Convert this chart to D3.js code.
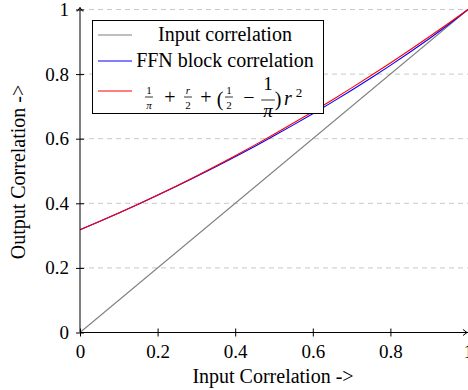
<!DOCTYPE html>
<html>
<head>
<meta charset="utf-8">
<script src="https://cdn.jsdelivr.net/npm/d3@7"></script>
<style>
  body { margin: 0; background: #fff; }
</style>
</head>
<body>
<svg width="468" height="390"></svg>
<script>
// values
const rValues = [0, 0.05, 0.1, 0.15, 0.2, 0.25, 0.3, 0.35, 0.4, 0.45, 0.5,
  0.55, 0.6, 0.65, 0.7, 0.75, 0.8, 0.85, 0.9, 0.95, 1]
const inputCorr = [[0, 0], [1, 1]]
const ffnCorr = [0.3183, 0.3437, 0.3699, 0.3969, 0.4247, 0.4533, 0.4827, 0.5130, 0.5441, 0.5761, 0.6090,
  0.6428, 0.6775, 0.7133, 0.7501, 0.7880, 0.8271, 0.8676, 0.9095, 0.9534, 1]
const approxCorr = [0.3183, 0.3438, 0.3701, 0.3974, 0.4256, 0.4547, 0.4847, 0.5156, 0.5474, 0.5801, 0.6137,
  0.6483, 0.6837, 0.7201, 0.7573, 0.7955, 0.8346, 0.8746, 0.9155, 0.9573, 1]
const xTicks = [0, 0.2, 0.4, 0.6, 0.8, 1]
const yTicks = [0, 0.2, 0.4, 0.6, 0.8, 1]
const gridTicks = [0.2, 0.4, 0.6, 0.8, 1]

const width = 468
const height = 390
const margin = {top: 9.5, right: 0, bottom: 57.5, left: 80}
const fontSize = 20
const tickFontSize = 19
const serif = 'Liberation Serif'

const x = d3.scaleLinear().domain([0, 1]).range([margin.left, width - margin.right])
const y = d3.scaleLinear().domain([0, 1]).range([height - margin.bottom, margin.top])

const svg = d3.select('svg')

// dashed grid
svg.append('g')
  .selectAll('line')
  .data(gridTicks)
  .join('line')
    .attr('x1', x(0)).attr('x2', x(1))
    .attr('y1', d => y(d)).attr('y2', d => y(d))
    .attr('stroke', '#c8c8c8')
    .attr('stroke-width', 1)
    .attr('stroke-dasharray', '5,4')

// curves
const line = d3.line().x(d => x(d[0])).y(d => y(d[1]))
const plot = svg.append('g').attr('fill', 'none').attr('stroke-width', 1.1)
plot.append('path').datum(inputCorr).attr('d', line).attr('stroke', '#808080')
plot.append('path').datum(rValues.map((r, i) => [r, ffnCorr[i]])).attr('d', line).attr('stroke', '#0000ff')
plot.append('path').datum(rValues.map((r, i) => [r, approxCorr[i]])).attr('d', line).attr('stroke', '#ff0000')

// axes
const xAxis = g => g
  .attr('transform', `translate(0, ${y(0)})`)
  .call(d3.axisBottom(x).tickValues(xTicks).tickFormat(d3.format('')).tickSizeInner(4).tickSizeOuter(0).tickPadding(8))
  .call(g => g.selectAll('.tick line').attr('y1', -4))
  .call(g => g.select('.domain').remove())

const yAxis = g => g
  .attr('transform', `translate(${x(0)}, 0)`)
  .call(d3.axisLeft(y).tickValues(yTicks).tickFormat(d3.format('')).tickSizeInner(4).tickSizeOuter(0).tickPadding(7))
  .call(g => g.selectAll('.tick line').attr('x1', 4))
  .call(g => g.select('.domain').remove())

svg.append('g').call(xAxis)
svg.append('g').call(yAxis)
svg.selectAll('.tick text')
  .style('font-family', serif)
  .style('font-size', tickFontSize + 'px')
  .attr('fill', '#000')

// axis lines with arrow heads
svg.append('line').attr('x1', x(0)).attr('x2', width).attr('y1', y(0)).attr('y2', y(0)).attr('stroke', '#000')
svg.append('line').attr('x1', x(0)).attr('x2', x(0)).attr('y1', y(0)).attr('y2', y(1) - 2).attr('stroke', '#000')
svg.append('path')
  .attr('d', `M${x(0) - 3},${y(1) + 2} L${x(0)},${y(1) - 2} L${x(0) + 3},${y(1) + 2}`)
  .attr('fill', 'none').attr('stroke', '#000').attr('stroke-width', 1)
svg.append('path')
  .attr('d', `M${width - 5},${y(0) - 3} L${width - 1},${y(0)} L${width - 5},${y(0) + 3}`)
  .attr('fill', 'none').attr('stroke', '#000').attr('stroke-width', 1)

// axis labels
svg.append('text')
  .attr('x', (x(0) + x(1)) / 2 - 1)
  .attr('y', 383)
  .attr('text-anchor', 'middle')
  .style('font-family', serif).style('font-size', fontSize + 'px')
  .text('Input Correlation ->')

svg.append('text')
  .attr('transform', `translate(25, ${(y(0) + y(1)) / 2 + 1}) rotate(-90)`)
  .attr('text-anchor', 'middle')
  .style('font-family', serif).style('font-size', fontSize + 'px')
  .text('Output Correlation ->')

// legend
const legend = svg.append('g').attr('transform', 'translate(92, 20)')
legend.append('rect')
  .attr('x', 0.5).attr('y', 0.5).attr('width', 231).attr('height', 93)
  .attr('fill', '#fff').attr('stroke', '#000').attr('stroke-width', 1)

const legendItems = [
  {label: 'Input correlation', color: '#808080', y: 15},
  {label: 'FFN block correlation', color: '#0000ff', y: 41},
  {label: null, color: '#ff0000', y: 71}
]
legendItems.forEach(item => {
  legend.append('line')
    .attr('x1', 6).attr('x2', 40)
    .attr('y1', item.y).attr('y2', item.y)
    .attr('stroke', item.color).attr('stroke-width', 1.1)
  if (item.label) {
    legend.append('text')
      .attr('x', 133).attr('y', item.y + 6)
      .attr('text-anchor', 'middle')
      .style('font-family', serif).style('font-size', fontSize + 'px')
      .text(item.label)
  }
})

// formula: 1/π + r/2 + (1/2 − 1/π) r²
const f = legend.append('g')
function txt(cx, yy, s, size, italic) {
  f.append('text').attr('x', cx).attr('y', yy).attr('text-anchor', 'middle')
    .style('font-family', serif).style('font-size', size + 'px')
    .style('font-style', italic ? 'italic' : 'normal').text(s)
}
function frac(cx, numY, barY, denY, num, den, size, italicNum, italicDen) {
  txt(cx, numY, num, size, italicNum)
  f.append('line').attr('x1', cx - size * 0.36).attr('x2', cx + size * 0.36)
    .attr('y1', barY).attr('y2', barY).attr('stroke', '#000').attr('stroke-width', 0.8)
  txt(cx, denY, den, size, italicDen)
}
frac(57, 74, 77, 89, '1', 'π', 11, false, true)
txt(78, 84, '+', 20)
frac(96, 74, 77, 89, 'r', '2', 11, true, false)
txt(114, 84, '+', 20)
txt(128, 86, '(', 20)
frac(137, 74, 77, 89, '1', '2', 11, false, false)
txt(157, 84, '−', 20)
frac(176, 70, 80, 97, '1', 'π', 19, false, true)
txt(186, 86, ')', 20)
txt(196, 85, 'r', 20, true)
txt(207, 77, '2', 13)
</script>
</body>
</html>
